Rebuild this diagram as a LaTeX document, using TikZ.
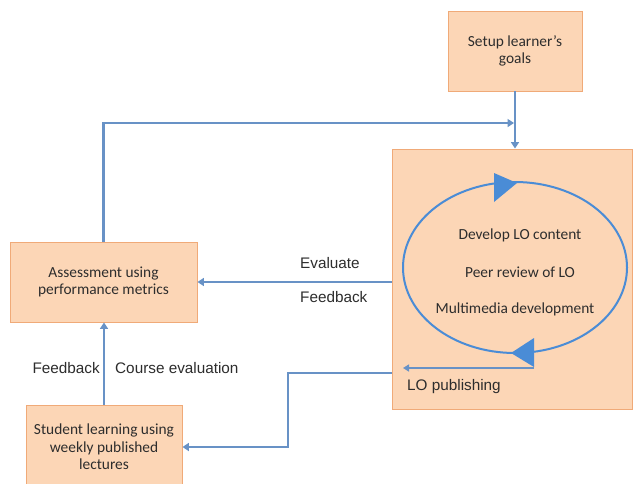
\documentclass[tikz,border=0pt]{standalone}
\usepackage{fontspec}
\setmainfont{Carlito}
\newfontfamily\arialf{Liberation Sans}
\usetikzlibrary{arrows.meta,shapes.geometric}
\definecolor{boxfill}{RGB}{252,214,182}
\definecolor{boxline}{RGB}{240,170,120}
\definecolor{conncol}{RGB}{104,146,198}
\definecolor{cyccol}{RGB}{74,140,214}
\definecolor{txtcol}{RGB}{45,45,45}
\tikzset{
  box/.style={draw=boxline, fill=boxfill, line width=0.9pt, rectangle, align=center,
    text=txtcol, font=\fontsize{15.4}{17.5}\selectfont, inner sep=0pt},
  conn/.style={draw=conncol, line width=2.4pt, -{Triangle[length=6.5pt,width=8pt]}},
  lbl/.style={font=\arialf\fontsize{15.3}{18}\selectfont, text=txtcol, inner sep=0pt},
  cyctxt/.style={font=\fontsize{15.4}{17}\selectfont, text=txtcol, inner sep=0pt},
  head/.style={fill=cyccol, draw=none},
}
\begin{document}
\begin{tikzpicture}[x=1pt,y=-1pt]
\useasboundingbox (0,0) rectangle (634,483);
\clip (0,0) rectangle (634,483);
\fill[white] (0,0) rectangle (634,483);
% boxes
\node[box, minimum width=134pt, minimum height=80pt] (setup) at (515,51) {Setup learner's\\goals};
\node[box, minimum width=240pt, minimum height=260pt] (lo) at (512,279) {};
\node[box, minimum width=187pt, minimum height=80pt] (assess) at (103.5,282) {Assessment using\\performance metrics};
\node[box, minimum width=156pt, minimum height=84pt] (student) at (104,447) {Student learning using\\weekly published\\lectures};
% cycle
\node[draw=cyccol, line width=2pt, ellipse, minimum width=224pt, minimum height=171pt, inner sep=0pt] (cyc) at (515,267.5) {};
\node[cyctxt] (t1) at (520,235) {Develop LO content};
\node[cyctxt] (t2) at (520,272) {Peer review of LO};
\node[cyctxt] (t3) at (515,309) {Multimedia development};
\fill[head] (494,173) -- (517,183) -- (494,202) -- cycle;
\fill[head] (534,338) -- (511,353) -- (534,367) -- cycle;
\coordinate (pubS) at (534,368);
\coordinate (pubE) at (403,368);
\draw[draw=conncol, line width=1.6pt, -{Triangle[length=6pt,width=7pt]}] (pubS) -- (pubE);
\node[lbl, anchor=west] (pub) at (407,387) {LO publishing};
% connectors
\draw[conn] (setup.south) -- (setup.south |- lo.north);
\coordinate (j) at (514,123);
\draw[conn] (assess.north) |- (j);
\draw[conn] (lo.west |- assess.east) -- (assess.east);
\node[lbl, anchor=west] (eval) at (300,263) {Evaluate};
\node[lbl, anchor=west] (fb1) at (300,297) {Feedback};
\draw[conn] (student.north) -- (student.north |- assess.south);
\node[lbl, anchor=east] (fb2) at (100,368) {Feedback};
\node[lbl, anchor=west] (ce) at (115,368) {Course evaluation};
\coordinate (b1) at (288,373);
\draw[conn] (lo.west |- b1) -- (b1) |- (student.east);
\end{tikzpicture}
\end{document}
